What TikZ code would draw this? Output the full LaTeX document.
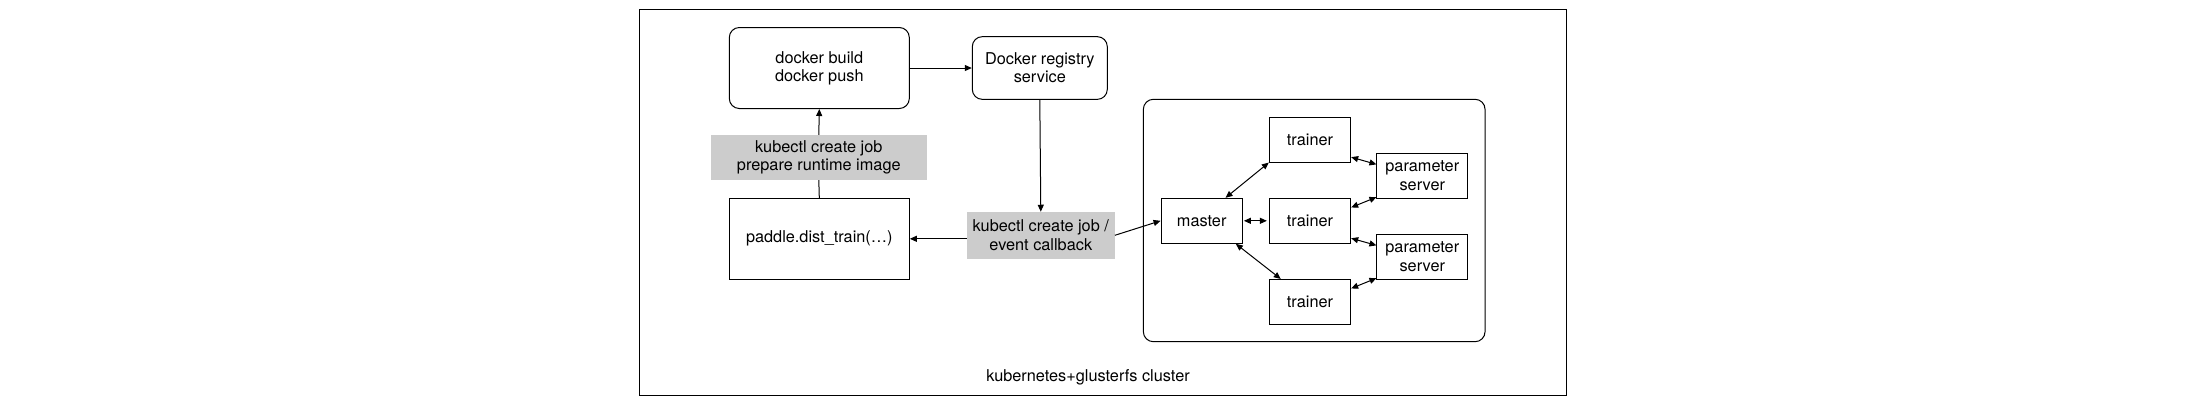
\documentclass[tikz,border=0pt]{standalone}
\usepackage{fontspec}
\setmainfont{TeX Gyre Heros}
\usetikzlibrary{arrows.meta}
\begin{document}
\begin{tikzpicture}[x=1pt,y=-1pt,
  every node/.style={font=\fontsize{16.3}{18.3}\selectfont, align=center, inner sep=0pt},
  rbox/.style={draw, line width=1pt, rounded corners=10pt},
  gbox/.style={fill=lgray, draw=none},
  conn/.style={line width=1pt, -{Triangle[length=7pt,width=6pt]}},
  biconn/.style={line width=1pt, {Triangle[length=7pt,width=6pt]}-{Triangle[length=7pt,width=6pt]}},
  plain/.style={line width=1pt}]
\definecolor{lgray}{RGB}{204,204,204}
\useasboundingbox[fill=white] (0,0) rectangle (2205,405);
% outer cluster frame
\node[draw, line width=1pt, minimum width=927pt, minimum height=386pt] (outer) at (1103,202.5) {};
\node[anchor=base] (clabel) at (1088,381.5) {kubernetes+glusterfs cluster};
% left part
\node[rbox, minimum width=180pt, minimum height=81pt] (build) at (819.3,68) {docker build\\docker push};
\node[rbox, minimum width=135pt, minimum height=62.7pt] (registry) at (1039.8,68) {Docker registry\\service};
\node[gbox, minimum width=215.7pt, minimum height=45pt] (lab1) at (818.8,157.5) {kubectl create job\\prepare runtime image};
\node[draw, line width=1pt, minimum width=180pt, minimum height=81pt] (paddle) at (819.3,238.8) {paddle.dist\_train(…)};
\node[gbox, minimum width=147.7pt, minimum height=46.7pt] (lab2) at (1040.8,235.3) {kubectl create job /\\event callback};
% inner cluster
\node[rbox, minimum width=341.7pt, minimum height=242.4pt] (inner) at (1314.2,220.5) {};
\node[draw, line width=1pt, minimum width=81.3pt, minimum height=45pt] (master) at (1201.7,220.8) {master};
\node[draw, line width=1pt, minimum width=81.3pt, minimum height=44.7pt] (t1) at (1310,139.7) {trainer};
\node[draw, line width=1pt, minimum width=81.3pt, minimum height=44.7pt] (t2) at (1310,220.8) {trainer};
\node[draw, line width=1pt, minimum width=81.3pt, minimum height=44.7pt] (t3) at (1310,301.8) {trainer};
\node[draw, line width=1pt, minimum width=90.7pt, minimum height=45pt] (ps1) at (1422.3,175.8) {parameter\\server};
\node[draw, line width=1pt, minimum width=90.7pt, minimum height=45pt] (ps2) at (1422.3,256.8) {parameter\\server};
% connectors
\draw[conn] (build.east) -- (registry.west);
\draw[plain] (paddle.north) -- (lab1.south);
\draw[conn] (lab1.north) -- (build.south);
\draw[conn] (registry.south) -- (lab2.north);
\draw[conn] (lab2.west |- paddle.east) -- (paddle.east);
\draw[conn] (lab2.east) -- (master.west);
\draw[biconn] (master.44) -- (t1.south west);
\draw[biconn, shorten <=1pt, shorten >=2pt] (master.east) -- (t2.west);
\draw[biconn] (master.-34) -- (t3.142);
\draw[biconn] (t1.-23) -- (ps1.166);
\draw[biconn] (t2.18) -- (ps1.205);
\draw[biconn] (t2.-23) -- (ps2.166);
\draw[biconn] (t3.18) -- (ps2.205);
\end{tikzpicture}
\end{document}
